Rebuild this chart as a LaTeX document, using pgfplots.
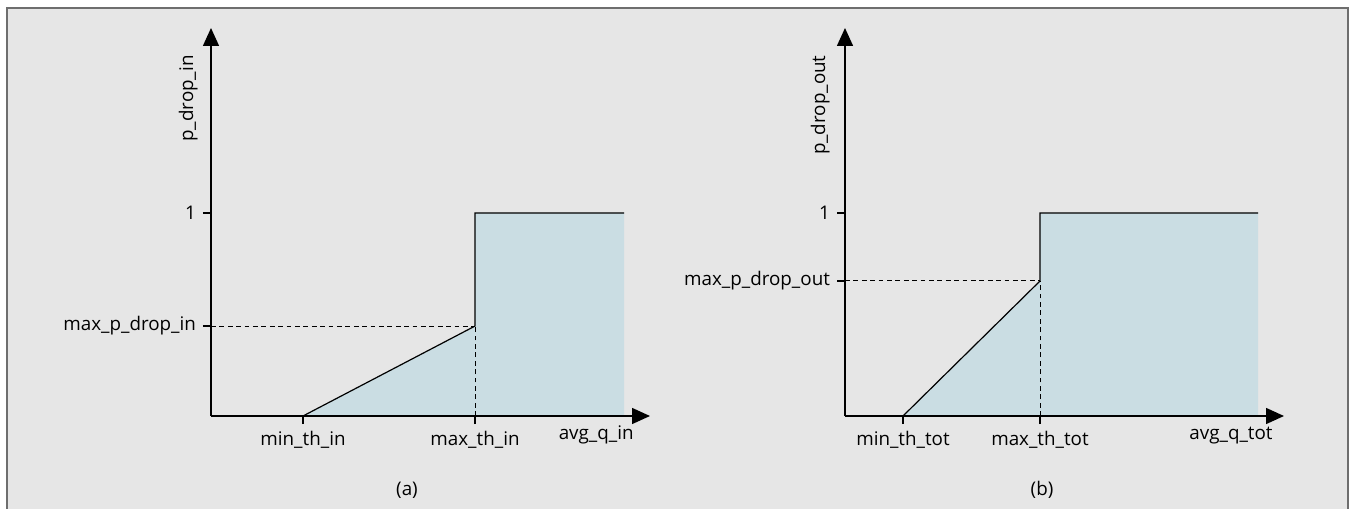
\documentclass[border=0pt]{standalone}
\usepackage{fontspec}
\setmainfont{Open Sans}
\usepackage{pgfplots}
\pgfplotsset{compat=1.18}
\usetikzlibrary{arrows.meta}
\definecolor{bg}{HTML}{E6E6E6}
\definecolor{fillc}{HTML}{CADDE3}
\definecolor{framec}{HTML}{6E6E6E}
\newcommand{\lblfont}{\fontsize{9.4}{11}\selectfont}
\pgfplotsset{redstyle/.style={
  scale only axis, width=219.5pt, height=194pt,
  xmin=0, xmax=4.39, ymin=0, ymax=1.911,
  axis lines=left,
  axis line style={line width=0.75pt, -{Triangle[length=9pt,width=8pt]}},
  tick align=outside, major tick length=4pt,
  tick style={black, line width=0.6pt},
  ticklabel style={font=\lblfont},
  axis on top=true,
  clip=false,
}}
\begin{document}
\begin{tikzpicture}
\fill[bg] (3.5pt,-2pt) rectangle (674pt,250.5pt);
\draw[framec, line width=0.75pt] (3.5pt,-2pt) -- (3.5pt,250.5pt) -- (674pt,250.5pt) -- (674pt,-2pt);

\begin{axis}[redstyle, at={(105.5pt,46.5pt)}, anchor=south west,
  xtick={0.92,2.64}, xticklabels={min\_th\_in, max\_th\_in},
  ytick={0.443,1}, yticklabels={max\_p\_drop\_in,1}]
\addplot[fill=fillc, draw=none] coordinates {(0.92,0) (2.64,0.443) (2.64,1) (4.13,1) (4.13,0) (0.92,0)};
\addplot[black, line width=0.6pt] coordinates {(0.92,0) (2.64,0.443) (2.64,1) (4.13,1)};
\addplot[black, line width=0.5pt, dash pattern=on 2.4pt off 1.8pt] coordinates {(0,0.443) (2.64,0.443)};
\addplot[black, line width=0.5pt, dash pattern=on 2.4pt off 1.8pt] coordinates {(2.64,0) (2.64,0.443)};
\end{axis}

\begin{axis}[redstyle, at={(422.5pt,46.5pt)}, anchor=south west,
  xtick={0.58,1.95}, xticklabels={min\_th\_tot, max\_th\_tot},
  ytick={0.665,1}, yticklabels={max\_p\_drop\_out,1}]
\addplot[fill=fillc, draw=none] coordinates {(0.58,0) (1.95,0.665) (1.95,1) (4.13,1) (4.13,0) (0.58,0)};
\addplot[black, line width=0.6pt] coordinates {(0.58,0) (1.95,0.665) (1.95,1) (4.13,1)};
\addplot[black, line width=0.5pt, dash pattern=on 2.4pt off 1.8pt] coordinates {(0,0.665) (1.95,0.665)};
\addplot[black, line width=0.5pt, dash pattern=on 2.4pt off 1.8pt] coordinates {(1.95,0) (1.95,0.665)};
\end{axis}

\node[font=\lblfont, anchor=base east, inner sep=0pt] at (317pt,34.5pt) {avg\_q\_in};
\node[font=\lblfont, anchor=base east, inner sep=0pt] at (636.5pt,34.5pt) {avg\_q\_tot};
\node[font=\lblfont, rotate=90, anchor=base east, inner sep=0pt] at (96.5pt,227pt) {p\_drop\_in};
\node[font=\lblfont, rotate=90, anchor=base east, inner sep=0pt] at (412.5pt,227pt) {p\_drop\_out};
\node[font=\lblfont] at (203.5pt,9.5pt) {(a)};
\node[font=\lblfont] at (521pt,9.5pt) {(b)};

\pgfresetboundingbox
\path[use as bounding box] (0,0) rectangle (678pt,254.5pt);
\end{tikzpicture}
\end{document}
